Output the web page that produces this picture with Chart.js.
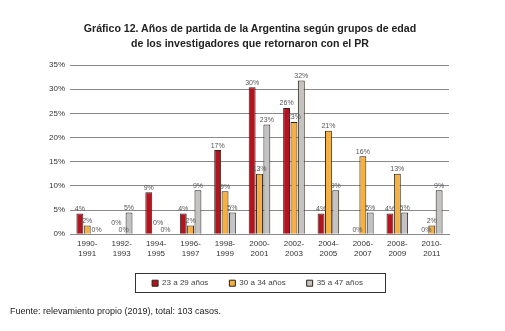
<!DOCTYPE html>
<html>
<head>
<meta charset="utf-8">
<script src="https://cdn.jsdelivr.net/npm/chart.js@4"></script>
<style>
  html, body { margin: 0; padding: 0; background: #fff; }
  #wrap { width: 505px; height: 331px; position: relative; }
  #titulo {
    position: absolute; left: 0; top: 20.5px; width: 500px;
    text-align: center; font: bold 10.6px/15px 'Liberation Sans', Arial, sans-serif;
    color: #222;
  }
</style>
</head>
<body>
<div id="wrap">
  <canvas id="grafico"></canvas>
  <div id="titulo">Gráfico 12. Años de partida de la Argentina según grupos de edad<br>de los investigadores que retornaron con el PR</div>
</div>
<script>
// periodos de partida (dos lineas cada uno)
const periodos = [
  ["1990-", "1991"], ["1992-", "1993"], ["1994-", "1995"], ["1996-", "1997"],
  ["1998-", "1999"], ["2000-", "2001"], ["2002-", "2003"], ["2004-", "2005"],
  ["2006-", "2007"], ["2008-", "2009"], ["2010-", "2011"]
];

// porcentajes
const grupo23a29 = [4.3, 0, 8.7, 4.3, 17.4, 30.4, 26.1, 4.3, 0, 4.3, 0];
const grupo30a34 = [1.8, 0, 0, 1.8, 8.9, 12.5, 23.2, 21.4, 16.1, 12.5, 1.8];
const grupo35a47 = [0, 4.5, 0, 9.1, 4.5, 22.7, 31.8, 9.1, 4.5, 4.5, 9.1];

const nombresGrupos = ["23 a 29 años", "30 a 34 años", "35 a 47 años"];
const ticksY = [0, 5, 10, 15, 20, 25, 30, 35];

const fuente = "'Liberation Sans', Arial, sans-serif";

// etiquetas de porcentaje arriba de cada barra
const etiquetasPlugin = {
  id: "etiquetas",
  afterDatasetsDraw(chart) {
    const ctx = chart.ctx;
    const base = chart.scales.y.getPixelForValue(0);
    ctx.save();
    ctx.font = "7px " + fuente;
    ctx.fillStyle = "#555";
    ctx.textAlign = "center";
    ctx.textBaseline = "bottom";
    chart.data.datasets.forEach((ds, i) => {
      const meta = chart.getDatasetMeta(i);
      meta.data.forEach((bar, j) => {
        const v = ds.data[j];
        let y = bar.y - 1;
        if (v === 0) {
          y = base - 1;
          const sig = chart.data.datasets[i + 1];
          if (sig && sig.data[j] === 0) y -= 7;
        }
        ctx.fillText(Math.round(v) + "%", bar.x + (v === 0 ? 2 : 0), y);
      });
    });
    ctx.restore();
  }
};

// recuadro alrededor de la leyenda
const marcoLeyenda = {
  id: "marcoLeyenda",
  afterDraw(chart) {
    const cajas = chart.legend.legendHitBoxes;
    if (!cajas || !cajas.length) return;
    const izq = Math.min(...cajas.map(c => c.left));
    const der = Math.max(...cajas.map(c => c.left + c.width));
    const medio = cajas[0].top + cajas[0].height / 2;
    const ctx = chart.ctx;
    ctx.save();
    ctx.strokeStyle = "#333";
    ctx.lineWidth = 1;
    ctx.strokeRect(Math.round(izq - 17) + 0.5, Math.round(medio - 10) + 0.5,
                   Math.round(der - izq + 39), 19);
    ctx.restore();
  }
};

new Chart(document.getElementById("grafico"), {
  type: "bar",
  data: {
    labels: periodos,
    datasets: [
      { label: nombresGrupos[0], data: grupo23a29, backgroundColor: "#B3141F" },
      { label: nombresGrupos[1], data: grupo30a34, backgroundColor: "#F6B041" },
      { label: nombresGrupos[2], data: grupo35a47, backgroundColor: "#C3C3C4" }
    ].map(d => Object.assign(d, {
      borderColor: "#2b2118",
      borderWidth: 1,
      categoryPercentage: 0.64,
      barPercentage: 0.94
    }))
  },
  options: {
    responsive: true,
    maintainAspectRatio: false,
    animation: false,
    layout: { padding: { left: 10, right: 0, top: 65, bottom: 0 } },
    plugins: {
      title: { display: false },
      subtitle: {
        display: true,
        position: "bottom",
        align: "start",
        text: "Fuente: relevamiento propio (2019), total: 103 casos.",
        color: "#222",
        font: { family: fuente, size: 9 },
        padding: { top: 9, bottom: 14 }
      },
      legend: {
        position: "bottom",
        labels: {
          boxWidth: 6,
          boxHeight: 6,
          padding: 21,
          color: "#444",
          font: { family: fuente, size: 8 }
        }
      },
      tooltip: { enabled: false }
    },
    scales: {
      x: {
        afterFit(axis) { axis.height = 24; },
        grid: { display: false, drawTicks: false },
        border: { color: "#8a8a8a" },
        ticks: {
          color: "#333",
          font: { family: fuente, size: 8 },
          maxRotation: 0,
          autoSkip: false,
          padding: 5
        }
      },
      y: {
        min: 0,
        max: 35,
        afterBuildTicks(axis) { axis.ticks = ticksY.map(v => ({ value: v })); },
        afterFit(axis) { axis.width = 60; },
        grid: { color: "#8a8a8a", drawTicks: false },
        border: { display: false },
        ticks: {
          color: "#333",
          font: { family: fuente, size: 8 },
          padding: 5,
          callback: v => v + "%"
        }
      },
      margenDer: {
        type: "linear",
        position: "right",
        afterFit(axis) { axis.width = 56; },
        grid: { display: false, drawTicks: false },
        border: { display: false },
        ticks: { display: false }
      }
    }
  },
  plugins: [etiquetasPlugin, marcoLeyenda]
});
</script>
</body>
</html>
